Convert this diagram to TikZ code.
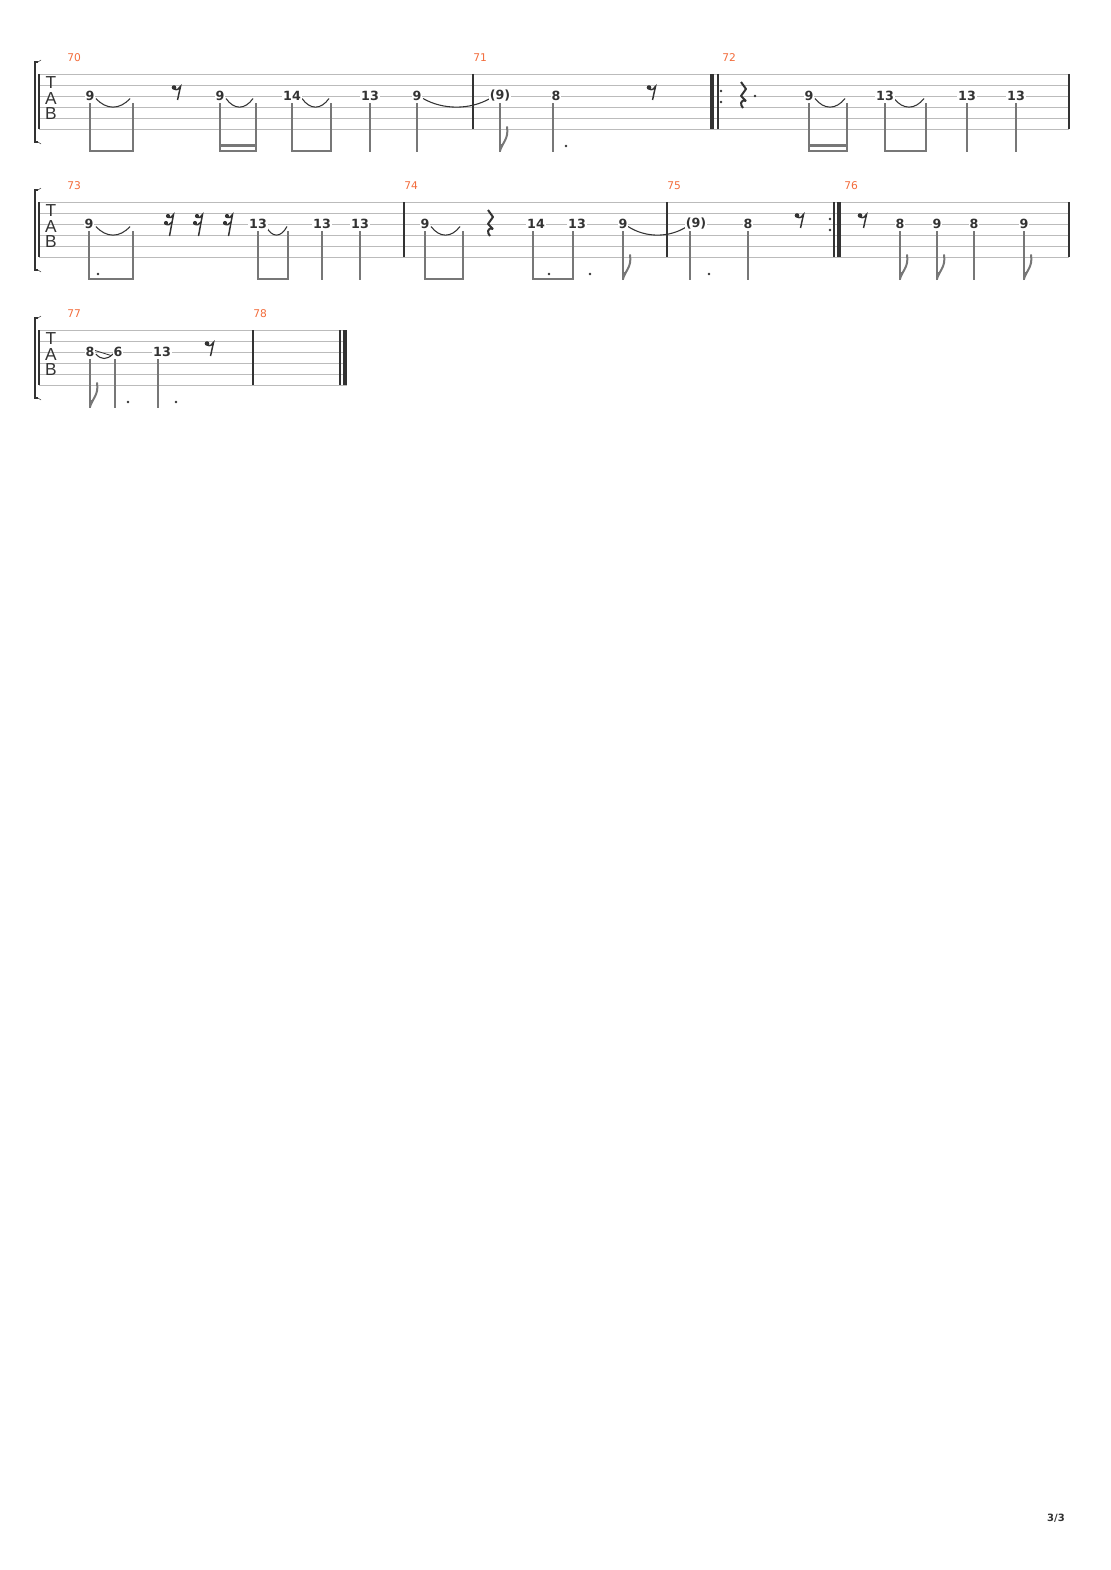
\documentclass[tikz,border=0pt]{standalone}
\usepackage{fontspec}
\setmainfont{DejaVu Sans}
\newfontfamily\labfont{Liberation Sans}
\definecolor{stemc}{HTML}{777777}
\definecolor{linec}{HTML}{BBBBBB}
\definecolor{numc}{HTML}{333333}
\definecolor{orng}{HTML}{F26B3A}
\newcommand\fretnum[2]{\node[font=\bfseries\fontsize{9.5}{9.5}\selectfont,text=numc,fill=white,inner sep=0.6pt] at (#1,96) {#2};}
\newcommand\stemat[1]{\draw[stemc,line width=0.9pt] (#1,103)--(#1,152);}
\newcommand\beamone[2]{\fill[stemc] (#1-0.45,149.5) rectangle (#2+0.45,152.2);}
\newcommand\beamtwo[2]{\fill[stemc] (#1-0.45,144.3) rectangle (#2+0.45,146.8);}
\newcommand\flagat[1]{\draw[stemc,line width=1.5pt,line cap=round] (#1,151) .. controls (#1+2,143) and (#1+9,139) .. (#1+7,127);
 \fill[stemc] (#1-0.5,152) -- (#1+0.5,144) -- (#1+3,144) -- cycle;}
\newcommand\tiecurve[2]{\draw[numc,line width=0.8pt] (#1,98.5) .. controls (#1+0.3*#2-0.3*#1,110) and (#1+0.7*#2-0.7*#1,110) .. (#2,98.5);}
\newcommand\dotat[2]{\fill[numc] (#1,#2) circle (1.3);}
\newcommand\erest[1]{\fill[numc] (#1-3,87.5) circle (2.3);
 \draw[numc,line width=1.1pt] (#1-3,89) .. controls (#1,90.5) and (#1+2,89) .. (#1+3.5,86.5) -- (#1+0.5,100);}
\newcommand\srest[1]{\fill[numc] (#1-2,88) circle (2.1); \fill[numc] (#1-4,95) circle (2.1);
 \draw[numc,line width=1.1pt] (#1-2,89.5) .. controls (#1,90.5) and (#1+2,89) .. (#1+3.5,86.5) -- (#1-0.5,108);
 \draw[numc,line width=1.1pt] (#1-4,96.5) .. controls (#1-2,97.5) and (#1,96.5) .. (#1+2,94);}
\newcommand\qrest[1]{\draw[numc,line width=1.5pt,line join=bevel] (#1-2,82) -- (#1+3,89) -- (#1-2,96) -- (#1+3,101) .. controls (#1-3,99) and (#1-3,105) .. (#1,108);}
\newcommand\barat[1]{\draw[numc,line width=0.9pt] (#1,74)--(#1,129);}
\newcommand\mnum[2]{\node[font=\fontsize{8}{8}\selectfont,text=orng,anchor=west,inner sep=0] at (#1,58) {#2};}
\newcommand\staffrow[1]{\foreach \k in {0,...,5} \draw[linec,line width=0.7pt] (39,74+11*\k)--(#1,74+11*\k);
 \draw[numc,line width=0.9pt] (39,74)--(39,129);
 \draw[numc,line width=1.6pt] (38,62)--(35,62)--(35,142)--(38,142);
 \draw[numc] (38,62)--(41,60); \draw[numc] (38,142)--(41,144);
 \node[font=\labfont\fontsize{13}{13}\selectfont,text=numc,inner sep=0] at (51,83) {T};
 \node[font=\labfont\fontsize{13}{13}\selectfont,text=numc,inner sep=0] at (51,98.5) {A};
 \node[font=\labfont\fontsize{13}{13}\selectfont,text=numc,inner sep=0] at (51,114) {B};}
\begin{document}
\begin{tikzpicture}[x=0.75pt,y=-0.75pt]
\useasboundingbox (0,0) rectangle (1110,1570);
% row 1
\staffrow{1069}
\mnum{67}{70}\mnum{473}{71}\mnum{722}{72}
\barat{473}\barat{1069}
\fill[numc] (710,74) rectangle (714,129); \draw[numc,line width=0.8pt] (718,74)--(718,129);
\dotat{721}{91}\dotat{721}{102}
\tiecurve{96}{130}\tiecurve{226}{253}\tiecurve{302}{329}\tiecurve{423}{490}
\tiecurve{815}{845}\tiecurve{894}{924}
\foreach \x/\t in {90/9,220/9,292/14,370/13,417/9,500/(9),556/8,809/9,885/13,967/13,1016/13} {\fretnum{\x}{\t}}
\foreach \x in {90,133,220,256,292,331,370,417,500,553,809,847,885,926,967,1016} {\stemat{\x}}
\beamone{90}{133}\beamone{220}{256}\beamtwo{220}{256}\beamone{292}{331}
\beamone{809}{847}\beamtwo{809}{847}\beamone{885}{926}
\flagat{500}\dotat{566}{146}
\erest{177}\erest{652}
\qrest{743}\dotat{755}{96}
% row 2
\begin{scope}[shift={(0,128)}]
\staffrow{1069}
\mnum{67}{73}\mnum{404}{74}\mnum{667}{75}\mnum{844}{76}
\barat{404}\barat{667}\barat{1069}
\draw[numc,line width=0.8pt] (834,74)--(834,129); \fill[numc] (837,74) rectangle (841,129);
\dotat{830}{91}\dotat{830}{102}
\tiecurve{96}{130}\tiecurve{266}{287}\tiecurve{431}{460}\tiecurve{628}{687}
\foreach \x/\t in {89/9,258/13,322/13,360/13,425/9,536/14,577/13,623/9,696/(9),748/8,900/8,937/9,974/8,1024/9} {\fretnum{\x}{\t}}
\foreach \x in {89,133,258,288,322,360,425,463,533,573,623,690,748,900,937,974,1024} {\stemat{\x}}
\beamone{89}{133}\beamone{258}{288}\beamone{425}{463}\beamone{533}{573}
\flagat{623}\flagat{900}\flagat{937}\flagat{1024}
\dotat{98}{146}\dotat{549}{146}\dotat{590}{146}\dotat{709}{146}
\srest{170}\srest{199}\srest{229}
\qrest{490}
\erest{800}\erest{863}
\end{scope}
% row 3
\begin{scope}[shift={(0,256)}]
\staffrow{347}
\mnum{67}{77}\mnum{253}{78}
\barat{253}
\draw[numc,line width=0.8pt] (340,74)--(340,129); \fill[numc] (343,74) rectangle (347,129);
\draw[numc,line width=0.8pt] (96,98) .. controls (101,104) and (107,104) .. (113,98);
\draw[numc,line width=0.6pt] (95,94.5)--(111,99.5);
\foreach \x/\t in {90/8,118/6,162/13} {\fretnum{\x}{\t}}
\foreach \x in {90,115,158} {\stemat{\x}}
\flagat{90}\dotat{128}{146}\dotat{176}{146}
\erest{210}
\end{scope}
\node[font=\bfseries\fontsize{7.5}{7.5}\selectfont,text=numc] at (1056,1518) {3/3};
\end{tikzpicture}
\end{document}
